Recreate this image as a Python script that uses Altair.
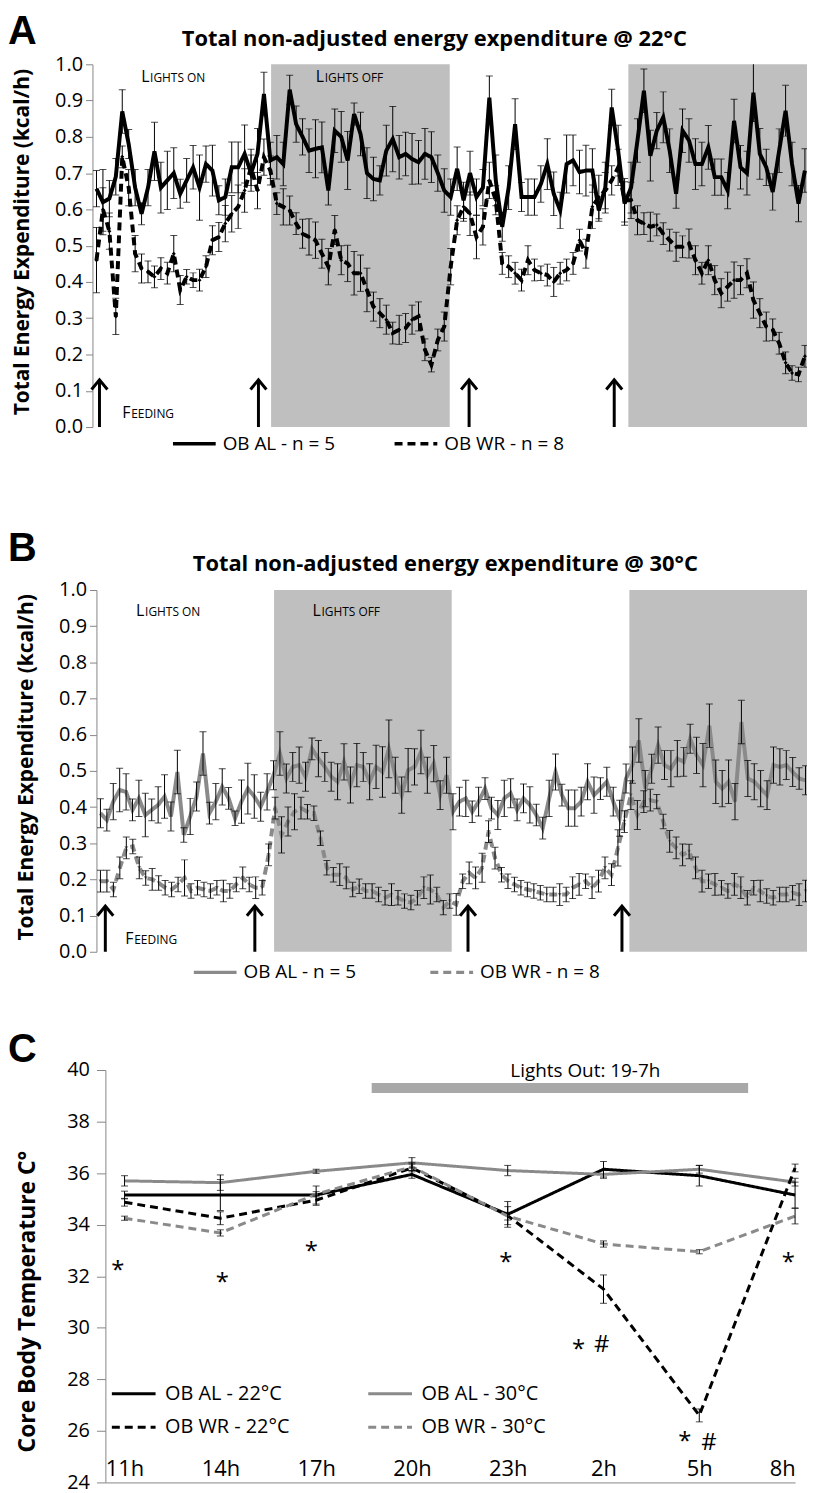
import altair as alt
import pandas as pd

FONT = "Open Sans"
LETTER_FONT = "Liberation Sans"

# ---------------- Panel A data (22 °C) ----------------
a_al = [0.657, 0.62, 0.63, 0.69, 0.87, 0.78, 0.66, 0.588, 0.66, 0.76,
        0.66, 0.68, 0.70, 0.643, 0.68, 0.716, 0.66, 0.725, 0.707, 0.625,
        0.634, 0.716, 0.716, 0.753, 0.70, 0.753, 0.918, 0.735, 0.744, 0.725,
        0.93, 0.835, 0.80, 0.762, 0.767, 0.771, 0.652, 0.817, 0.80, 0.735,
        0.863, 0.808, 0.70, 0.684, 0.68, 0.762, 0.794, 0.744, 0.753,
        0.739, 0.73, 0.753, 0.744, 0.70, 0.652, 0.634, 0.712, 0.625, 0.70,
        0.634, 0.66, 0.908, 0.68, 0.552, 0.66, 0.835, 0.634, 0.634, 0.634,
        0.67, 0.725, 0.643, 0.597, 0.725, 0.735, 0.703, 0.707, 0.707, 0.597,
        0.66, 0.881, 0.762, 0.616, 0.66, 0.79, 0.927, 0.748, 0.817, 0.854,
        0.762, 0.643, 0.817, 0.79, 0.725, 0.725, 0.771, 0.689, 0.689, 0.652,
        0.844, 0.716, 0.70, 0.922, 0.753, 0.716, 0.648, 0.762, 0.872, 0.725,
        0.616, 0.707]
a_al_err = [0.05, 0.09, 0.05, 0.05, 0.06, 0.04, 0.05, 0.03, 0.05, 0.08,
            0.07, 0.08, 0.07, 0.04, 0.06, 0.06, 0.09, 0.05, 0.07, 0.04,
            0.05, 0.07, 0.07, 0.08, 0.05, 0.07, 0.06, 0.05, 0.06, 0.06,
            0.04, 0.05, 0.05, 0.06, 0.08, 0.07, 0.04, 0.06, 0.07, 0.08,
            0.03, 0.06, 0.07, 0.06, 0.04, 0.07, 0.09, 0.06, 0.06,
            0.07, 0.06, 0.07, 0.07, 0.05, 0.06, 0.05, 0.06, 0.05, 0.06,
            0.05, 0.05, 0.06, 0.07, 0.04, 0.06, 0.07, 0.04, 0.05, 0.05,
            0.05, 0.07, 0.06, 0.05, 0.08, 0.07, 0.06, 0.07, 0.06, 0.03,
            0.07, 0.05, 0.07, 0.06, 0.07, 0.06, 0.06, 0.07, 0.05, 0.07,
            0.06, 0.04, 0.06, 0.06, 0.07, 0.06, 0.06, 0.05, 0.05, 0.05,
            0.06, 0.06, 0.06, 0.08, 0.07, 0.05, 0.05, 0.06, 0.07, 0.06,
            0.05, 0.06]
a_wr = [0.46, 0.60, 0.54, 0.305, 0.745, 0.66, 0.478, 0.437, 0.428, 0.414,
        0.437, 0.424, 0.478, 0.378, 0.414, 0.405, 0.405, 0.442, 0.515, 0.524,
        0.561, 0.588, 0.607, 0.652, 0.716, 0.652, 0.744, 0.707, 0.616, 0.607,
        0.597, 0.561, 0.533, 0.524, 0.515, 0.478, 0.442, 0.543, 0.46, 0.451,
        0.424, 0.424, 0.378, 0.332, 0.314, 0.296, 0.259, 0.268, 0.273,
        0.296, 0.305, 0.213, 0.172, 0.24, 0.277, 0.442, 0.57, 0.607, 0.588,
        0.524, 0.552, 0.68, 0.625, 0.451, 0.442, 0.424, 0.405, 0.46, 0.433,
        0.424, 0.419, 0.40, 0.424, 0.433, 0.451, 0.515, 0.478, 0.607, 0.634,
        0.652, 0.68, 0.716, 0.625, 0.625, 0.57, 0.561, 0.552, 0.557, 0.533,
        0.515, 0.497, 0.497, 0.506, 0.46, 0.424, 0.46, 0.405, 0.369, 0.387,
        0.405, 0.405, 0.424, 0.35, 0.314, 0.277, 0.268, 0.231, 0.177, 0.149,
        0.145, 0.195]
a_wr_err = [0.09, 0.06, 0.05, 0.05, 0.03, 0.05, 0.05, 0.04, 0.03, 0.03,
            0.03, 0.03, 0.05, 0.04, 0.02, 0.02, 0.03, 0.03, 0.04, 0.04,
            0.05, 0.05, 0.06, 0.06, 0.05, 0.05, 0.05, 0.04, 0.03, 0.05,
            0.04, 0.03, 0.04, 0.05, 0.05, 0.04, 0.05, 0.04, 0.04, 0.05,
            0.06, 0.05, 0.06, 0.04, 0.04, 0.04, 0.03, 0.04, 0.04,
            0.04, 0.04, 0.03, 0.02, 0.03, 0.04, 0.05, 0.04, 0.04, 0.06,
            0.06, 0.05, 0.05, 0.04, 0.03, 0.03, 0.03, 0.03, 0.04, 0.03,
            0.02, 0.03, 0.04, 0.03, 0.03, 0.03, 0.03, 0.04, 0.06, 0.06,
            0.05, 0.04, 0.05, 0.06, 0.05, 0.04, 0.03, 0.04, 0.03, 0.03,
            0.03, 0.04, 0.03, 0.04, 0.04, 0.03, 0.04, 0.04, 0.04, 0.04,
            0.05, 0.04, 0.04, 0.05, 0.04, 0.04, 0.03, 0.03, 0.03, 0.02,
            0.02, 0.03]

# ---------------- Panel B data (30 °C) ----------------
b_al = [0.383, 0.364, 0.415, 0.447, 0.442, 0.392, 0.424, 0.378, 0.392, 0.406,
        0.429, 0.374, 0.497, 0.323, 0.374, 0.429, 0.548, 0.383, 0.415, 0.456,
        0.424, 0.369, 0.415, 0.451, 0.429, 0.401, 0.442, 0.488, 0.548, 0.479,
        0.511, 0.516, 0.484, 0.561, 0.534, 0.511, 0.484, 0.47, 0.525, 0.461,
        0.516, 0.511, 0.47, 0.511, 0.497, 0.561, 0.488, 0.433, 0.502, 0.511,
        0.552, 0.488, 0.52, 0.433, 0.488, 0.387,
        0.415, 0.424, 0.387, 0.415, 0.451, 0.397, 0.378, 0.424, 0.438, 0.392,
        0.424, 0.406, 0.378, 0.342, 0.424, 0.497, 0.433, 0.397, 0.397, 0.415,
        0.47, 0.433, 0.451, 0.47, 0.415, 0.369, 0.479, 0.516, 0.584, 0.451,
        0.506, 0.571, 0.516, 0.506, 0.534, 0.525, 0.589, 0.543, 0.516, 0.625,
        0.47, 0.451, 0.47, 0.415, 0.635, 0.479, 0.47, 0.451, 0.433, 0.516,
        0.511, 0.516, 0.497, 0.479, 0.474]
b_al_err = [0.04, 0.03, 0.05, 0.06, 0.05, 0.03, 0.05, 0.06, 0.03, 0.05,
            0.06, 0.04, 0.06, 0.02, 0.05, 0.04, 0.06, 0.03, 0.05, 0.05,
            0.03, 0.02, 0.06, 0.07, 0.06, 0.04, 0.05, 0.04, 0.06, 0.04,
            0.04, 0.05, 0.04, 0.03, 0.05, 0.04, 0.04, 0.05, 0.05, 0.05,
            0.06, 0.04, 0.05, 0.06, 0.07, 0.08, 0.05, 0.05, 0.06, 0.05,
            0.06, 0.05, 0.05, 0.04, 0.05, 0.05,
            0.04, 0.05, 0.03, 0.04, 0.03, 0.03, 0.04, 0.05, 0.04, 0.03,
            0.04, 0.05, 0.03, 0.03, 0.05, 0.05, 0.03, 0.05, 0.05, 0.04,
            0.05, 0.05, 0.03, 0.04, 0.04, 0.05, 0.04, 0.05, 0.06, 0.05,
            0.04, 0.05, 0.04, 0.05, 0.05, 0.04, 0.04, 0.05, 0.06, 0.06,
            0.06, 0.05, 0.06, 0.05, 0.06, 0.05, 0.05, 0.05, 0.04, 0.05,
            0.05, 0.04, 0.04, 0.03, 0.04]
b_wr = [0.195, 0.195, 0.172, 0.232, 0.287, 0.291, 0.232, 0.204, 0.2, 0.19,
        0.177, 0.172, 0.186, 0.204, 0.168, 0.177, 0.172, 0.168, 0.177, 0.168,
        0.168, 0.186, 0.204, 0.186, 0.177, 0.177, 0.268, 0.397, 0.323, 0.36,
        0.387, 0.397, 0.387, 0.383, 0.314, 0.232, 0.213, 0.213, 0.204, 0.172,
        0.181, 0.168, 0.168, 0.158, 0.149, 0.158, 0.149, 0.14, 0.136, 0.149,
        0.177, 0.172, 0.158, 0.122, 0.14, 0.131,
        0.195, 0.218, 0.204, 0.232, 0.332, 0.259, 0.213, 0.195, 0.186, 0.177,
        0.172, 0.168, 0.163, 0.158, 0.158, 0.158, 0.158, 0.177, 0.186, 0.195,
        0.177, 0.195, 0.232, 0.213, 0.287, 0.36, 0.433, 0.378, 0.415, 0.419,
        0.415, 0.36, 0.305, 0.287, 0.268, 0.277, 0.232, 0.195, 0.195, 0.186,
        0.177, 0.168, 0.186, 0.177, 0.149, 0.177, 0.168, 0.154, 0.149, 0.158,
        0.158, 0.163, 0.158, 0.168]
b_wr_err = [0.03, 0.03, 0.02, 0.03, 0.03, 0.02, 0.03, 0.02, 0.03, 0.02,
            0.02, 0.02, 0.02, 0.05, 0.02, 0.02, 0.02, 0.02, 0.02, 0.03,
            0.02, 0.02, 0.03, 0.02, 0.03, 0.02, 0.03, 0.03, 0.05, 0.04,
            0.05, 0.03, 0.02, 0.02, 0.02, 0.02, 0.02, 0.03, 0.03, 0.02,
            0.02, 0.02, 0.02, 0.02, 0.02, 0.03, 0.02, 0.02, 0.02, 0.02,
            0.03, 0.04, 0.02, 0.02, 0.02, 0.03,
            0.02, 0.03, 0.03, 0.04, 0.03, 0.03, 0.02, 0.02, 0.02, 0.02,
            0.02, 0.02, 0.02, 0.02, 0.02, 0.03, 0.02, 0.03, 0.03, 0.02,
            0.03, 0.03, 0.03, 0.03, 0.05, 0.03, 0.04, 0.04, 0.03, 0.03,
            0.02, 0.02, 0.03, 0.03, 0.03, 0.02, 0.03, 0.03, 0.02, 0.03,
            0.02, 0.02, 0.03, 0.03, 0.02, 0.02, 0.03, 0.02, 0.02, 0.02,
            0.02, 0.02, 0.03, 0.03]

lights_off_h = [[12, 24], [36, 48]]
a_feeding_h = [0.47, 11.15, 25.3, 35.05]
b_feeding_h = [0.6, 10.7, 25.1, 35.5]
ee_ticks = [0.0, 0.1, 0.2, 0.3, 0.4, 0.5, 0.6, 0.7, 0.8, 0.9, 1.0]
ee_names = ["OB AL - n = 5", "OB WR - n = 8"]

# ---------------- Panel C data ----------------
c_times = ["11h", "14h", "17h", "20h", "23h", "2h", "5h", "8h"]
c_al22 = [35.15, 35.15, 35.15, 35.95, 34.4, 36.15, 35.9, 35.15]
c_al22_err = [0.15, 0.6, 0.35, 0.15, 0.5, 0.3, 0.4, 0.5]
c_wr22 = [34.87, 34.25, 34.95, 36.2, 34.35, 31.5, 26.6, 36.2]
c_wr22_err = [0.15, 0.25, 0.2, 0.15, 0.35, 0.55, 0.25, 0.15]
c_al30 = [35.7, 35.63, 36.07, 36.4, 36.1, 35.95, 36.15, 35.65]
c_al30_err = [0.2, 0.3, 0.08, 0.2, 0.2, 0.15, 0.15, 0.15]
c_wr30 = [34.25, 33.68, 35.18, 36.25, 34.33, 33.25, 32.95, 34.33]
c_wr30_err = [0.08, 0.12, 0.1, 0.15, 0.15, 0.12, 0.08, 0.3]
c_names = ["OB AL  - 22°C", "OB AL - 30°C", "OB WR - 22°C", "OB WR - 30°C"]
c_ticks = [24, 26, 28, 30, 32, 34, 36, 38, 40]
c_marks = [(-0.07, 32.48, "*"), (1.02, 32.0, "*"), (1.95, 33.2, "*"),
           (3.98, 32.8, "*"), (4.74, 29.4, "*"), (4.98, 29.4, "#"),
           (5.85, 25.85, "*"), (6.10, 25.6, "#"), (6.93, 32.8, "*")]
c_lights_bar = [2.58, 6.51, 39.3]
c_lights_text = (4.81, 39.95, "Lights Out: 19-7h")

AXIS_GRAY = "#868686"
SHADE = "#bfbfbf"
GRAY_LINE = "#8a8a8a"


def series_df(vals, errs, name, t0, t1):
    assert len(vals) == len(errs), (name, len(vals), len(errs))
    n = len(vals)
    step = (t1 - t0) / (n - 1)
    return pd.DataFrame({
        "t": [t0 + i * step for i in range(n)],
        "v": vals,
        "lo": [v - e for v, e in zip(vals, errs)],
        "hi": [v + e for v, e in zip(vals, errs)],
        "s": name,
    })


def letter_layer(letter, lx, ly):
    return alt.Chart(pd.DataFrame({"k": [letter]})).mark_text(
        font=LETTER_FONT, fontSize=40, fontWeight="bold", align="left",
        baseline="alphabetic", color="black").encode(
        x=alt.value(lx), y=alt.value(ly), text="k:N")


def energy_panel(letter, title, al, al_err, wr, wr_err, color, t0, t1,
                 feeding, tip, on_pos, off_pos, feed_pos, leg_x, leg_y,
                 col_pad, width, height, x_start, title_x, title_y, letter_y,
                 marker):
    df = pd.concat([series_df(al, al_err, ee_names[0], t0, t1),
                    series_df(wr, wr_err, ee_names[1], t0, t1)])
    xs = alt.Scale(domain=[0, 48], nice=False, zero=False, range=[x_start, width])
    ys = alt.Scale(domain=[0, 1], nice=False, zero=False)
    yaxis = alt.Axis(values=ee_ticks, format=".1f", tickSize=7, labelPadding=3,
                     offset=-x_start,
                     labelFont=FONT, labelFontSize=20, labelColor="black",
                     domainColor=AXIS_GRAY, tickColor=AXIS_GRAY, grid=False,
                     title="Total Energy Expenditure (kcal/h)", titleFont=FONT,
                     titleFontSize=21, titleFontWeight="bold", titleColor="black",
                     titleX=-60, titleY=height / 2 - 4, titleAngle=270,
                     titleAlign="center", titleBaseline="bottom")
    X = lambda f: alt.X(f, scale=xs, axis=None)
    Y = lambda f: alt.Y(f, scale=ys, axis=yaxis)

    shade_df = pd.DataFrame({"a": [p[0] for p in lights_off_h],
                             "b": [p[1] for p in lights_off_h],
                             "lo": [0.0] * len(lights_off_h),
                             "hi": [1.0] * len(lights_off_h)})
    shade = alt.Chart(shade_df).mark_rect(color=SHADE).encode(
        x=X("a:Q"), x2="b:Q", y=Y("lo:Q"), y2="hi:Q")

    legend = alt.Legend(title=None, orient="none", legendX=leg_x, legendY=leg_y,
                        direction="horizontal", symbolType="stroke",
                        symbolSize=1849, symbolStrokeWidth=3.5, labelFont=FONT,
                        labelFontSize=19, labelColor="black", labelOffset=5,
                        columnPadding=col_pad)
    lines = alt.Chart(df).mark_line(strokeWidth=4, clip=True).encode(
        x=X("t:Q"), y=Y("v:Q"),
        color=alt.Color("s:N", scale=alt.Scale(domain=ee_names, range=[color, color]),
                        legend=legend),
        strokeDash=alt.StrokeDash("s:N", scale=alt.Scale(domain=ee_names,
                                                         range=[[1, 0], [8, 5]]),
                                  legend=legend),
        detail="s:N")
    pts = alt.Chart(df).transform_filter(
        alt.datum.s == ee_names[1]).mark_point(
        shape=marker, size=16, filled=True, color=color, opacity=1, clip=True).encode(
        x=X("t:Q"), y=Y("v:Q"))

    err_rule = alt.Chart(df).mark_rule(color="black", strokeWidth=1, clip=True).encode(
        x=X("t:Q"), y=Y("lo:Q"), y2="hi:Q")
    cap_lo = alt.Chart(df).mark_tick(color="black", thickness=1, size=7,
                                     orient="horizontal", clip=True).encode(
        x=X("t:Q"), y=Y("lo:Q"))
    cap_hi = alt.Chart(df).mark_tick(color="black", thickness=1, size=7,
                                     orient="horizontal", clip=True).encode(
        x=X("t:Q"), y=Y("hi:Q"))

    arrow_df = pd.DataFrame({"t": feeding, "y0": [0.0] * len(feeding),
                             "y1": [tip] * len(feeding)})
    arrow_shaft = alt.Chart(arrow_df).mark_rule(color="black", strokeWidth=3).encode(
        x=X("t:Q"), y=Y("y0:Q"), y2="y1:Q")
    arrow_head = alt.Chart(arrow_df).mark_point(
        shape="M-1,1.2L0,0L1,1.2", size=256, filled=False, strokeWidth=3,
        color="black", opacity=1).encode(x=X("t:Q"), y=Y("y1:Q"))

    lab_df = pd.DataFrame({
        "t": [on_pos[0], off_pos[0], feed_pos[0]],
        "v": [on_pos[1], off_pos[1], feed_pos[1]],
        "first": ["L", "L", "F"],
        "rest": ["IGHTS ON", "IGHTS OFF", "EEDING"],
    })
    lab1 = alt.Chart(lab_df).mark_text(font=FONT, fontSize=16, align="left",
                                       baseline="alphabetic", color="black").encode(
        x=X("t:Q"), y=Y("v:Q"), text="first:N")
    lab2 = alt.Chart(lab_df).mark_text(font=FONT, fontSize=12, align="left", dx=9,
                                       baseline="alphabetic", color="black").encode(
        x=X("t:Q"), y=Y("v:Q"), text="rest:N")

    ttl = alt.Chart(pd.DataFrame({"k": [title]})).mark_text(
        font=FONT, fontSize=22, fontWeight="bold", align="center",
        baseline="alphabetic", color="black").encode(
        x=alt.value(title_x), y=alt.value(title_y), text="k:N")

    return alt.layer(shade, lines, pts, err_rule, cap_lo, cap_hi, arrow_shaft,
                     arrow_head, lab1, lab2, ttl,
                     letter_layer(letter, -85, letter_y)).properties(
        width=width, height=height)


panel_a = energy_panel("A", "Total non-adjusted energy expenditure @ 22°C",
                       a_al, a_al_err, a_wr, a_wr_err, "black", 0.27, 47.86,
                       a_feeding_h, 0.13, (3.27, 0.95), (15.0, 0.95),
                       (2.0, 0.026), 79, 358, 52, 719, 365, 0, 344, -18, -20,
                       "diamond")
panel_b = energy_panel("B", "Total non-adjusted energy expenditure @ 30°C",
                       b_al, b_al_err, b_wr, b_wr_err, GRAY_LINE, 0.27, 47.9,
                       b_feeding_h, 0.126, (2.68, 0.928), (14.6, 0.928),
                       (1.95, 0.021), 100, 361, 67, 719, 364, 4, 355, -19, -29,
                       "triangle-down")

# ---------------- Panel C ----------------
C_OFF = 13
C_W = 707
C_H = 415
c_series = [(c_al22, c_al22_err, c_names[0]), (c_al30, c_al30_err, c_names[1]),
            (c_wr22, c_wr22_err, c_names[2]), (c_wr30, c_wr30_err, c_names[3])]
c_df = pd.concat([pd.DataFrame({
    "x": list(range(len(vals))), "v": vals,
    "lo": [v - e for v, e in zip(vals, errs)],
    "hi": [v + e for v, e in zip(vals, errs)], "s": name})
    for vals, errs, name in c_series])

cxs = alt.Scale(domain=[-0.2, len(c_times) - 1], nice=False, zero=False,
                range=[C_OFF, C_W])
cys = alt.Scale(domain=[24, 40], nice=False, zero=False)
label_expr = "[" + ",".join("'%s'" % t for t in c_times) + "][datum.value]"
cxaxis = alt.Axis(values=list(range(len(c_times))), labelExpr=label_expr,
                  ticks=False, tickSize=0, labelPadding=-7,
                  labelBaseline="alphabetic", labelFont=FONT, labelFontSize=22,
                  labelColor="black", labelFlush=5, domainColor=AXIS_GRAY,
                  grid=False, title=None)
cyaxis = alt.Axis(values=c_ticks, tickSize=9, labelPadding=7, labelFont=FONT,
                  offset=-C_OFF,
                  labelFontSize=20, labelColor="black", domainColor=AXIS_GRAY,
                  tickColor=AXIS_GRAY, grid=False,
                  title="Core Body Temperature C°", titleFont=FONT,
                  titleFontSize=23, titleFontWeight="bold", titleColor="black",
                  titleX=-66, titleY=C_H / 2 + 25, titleAngle=270, titleAlign="center",
                  titleBaseline="bottom")
CX = lambda f: alt.X(f, scale=cxs, axis=cxaxis)
CY = lambda f: alt.Y(f, scale=cys, axis=cyaxis)

c_legend = alt.Legend(title=None, orient="none", legendX=18, legendY=302,
                      columns=2, direction="horizontal", symbolType="stroke",
                      symbolSize=1936, symbolStrokeWidth=3, labelFont=FONT,
                      labelFontSize=20, labelColor="black", labelOffset=8,
                      columnPadding=72, rowPadding=-20)
c_lines = alt.Chart(c_df).mark_line(strokeWidth=3).encode(
    x=CX("x:Q"), y=CY("v:Q"),
    color=alt.Color("s:N", scale=alt.Scale(domain=c_names,
                                           range=["black", GRAY_LINE, "black", GRAY_LINE]),
                    legend=c_legend),
    strokeDash=alt.StrokeDash("s:N", scale=alt.Scale(domain=c_names,
                                                     range=[[1, 0], [1, 0], [8, 5], [8, 5]]),
                              legend=c_legend),
    detail="s:N")
c_err = alt.Chart(c_df).mark_rule(color="black", strokeWidth=1).encode(
    x=CX("x:Q"), y=CY("lo:Q"), y2="hi:Q")
c_cap_lo = alt.Chart(c_df).mark_tick(color="black", thickness=1, size=7,
                                     orient="horizontal").encode(x=CX("x:Q"), y=CY("lo:Q"))
c_cap_hi = alt.Chart(c_df).mark_tick(color="black", thickness=1, size=7,
                                     orient="horizontal").encode(x=CX("x:Q"), y=CY("hi:Q"))

bar_df = pd.DataFrame({"a": [c_lights_bar[0]], "b": [c_lights_bar[1]], "y": [c_lights_bar[2]]})
c_bar = alt.Chart(bar_df).mark_rule(color="#a8a8a8", strokeWidth=10).encode(
    x=CX("a:Q"), x2="b:Q", y=CY("y:Q"))
txt_df = pd.DataFrame({"x": [c_lights_text[0]], "y": [c_lights_text[1]], "t": [c_lights_text[2]]})
c_txt = alt.Chart(txt_df).mark_text(font=FONT, fontSize=19, baseline="middle",
                                    align="center", color="black").encode(
    x=CX("x:Q"), y=CY("y:Q"), text="t:N")

marks_df = pd.DataFrame({"x": [m[0] for m in c_marks], "y": [m[1] for m in c_marks],
                         "t": [m[2] for m in c_marks]})
c_star = alt.Chart(marks_df).transform_filter("datum.t == '*'").mark_text(
    font=FONT, fontSize=24, baseline="alphabetic", align="center", dy=14,
    color="black").encode(x=CX("x:Q"), y=CY("y:Q"), text="t:N")
c_hash = alt.Chart(marks_df).transform_filter("datum.t == '#'").mark_text(
    font=FONT, fontSize=24, baseline="alphabetic", align="center", dy=9,
    color="black").encode(x=CX("x:Q"), y=CY("y:Q"), text="t:N")

panel_c = alt.layer(c_bar, c_txt, c_lines, c_err, c_cap_lo, c_cap_hi, c_star,
                    c_hash, letter_layer("C", -85, -8)).properties(width=C_W, height=C_H)

top = alt.vconcat(panel_a, panel_b, spacing=76).resolve_scale(
    color="independent", strokeDash="independent", x="independent", y="independent"
).resolve_legend(color="independent", strokeDash="independent")

chart = alt.vconcat(top, panel_c, spacing=48).resolve_scale(
    color="independent", strokeDash="independent", x="independent", y="independent"
).resolve_legend(color="independent", strokeDash="independent").properties(
    padding={"left": 0, "top": 0, "right": 0, "bottom": 0}
).configure_view(stroke=None).configure_axis(grid=False)

chart.save("out.html", embed_options={"renderer": "svg", "actions": False})
